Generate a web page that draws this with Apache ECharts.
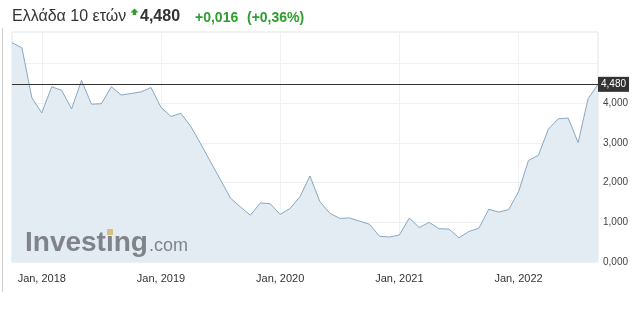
<!DOCTYPE html>
<html>
<head>
<meta charset="utf-8">
<script src="https://cdn.jsdelivr.net/npm/echarts@6/dist/echarts.min.js"></script>
<style>
  html, body { margin: 0; padding: 0; background: #fff; }
  #chart { width: 641px; height: 320px; }
</style>
</head>
<body>
<div id="chart"></div>
<script>
const months = [
  "2017-10","2017-11","2017-12",
  "2018-01","2018-02","2018-03","2018-04","2018-05","2018-06","2018-07","2018-08","2018-09","2018-10","2018-11","2018-12",
  "2019-01","2019-02","2019-03","2019-04","2019-05","2019-06","2019-07","2019-08","2019-09","2019-10","2019-11","2019-12",
  "2020-01","2020-02","2020-03","2020-04","2020-05","2020-06","2020-07","2020-08","2020-09","2020-10","2020-11","2020-12",
  "2021-01","2021-02","2021-03","2021-04","2021-05","2021-06","2021-07","2021-08","2021-09","2021-10","2021-11","2021-12",
  "2022-01","2022-02","2022-03","2022-04","2022-05","2022-06","2022-07","2022-08","2022-09"
];
const yields = [
  5.53, 5.40, 4.14,
  3.76, 4.42, 4.33, 3.86, 4.58, 3.98, 3.99, 4.42, 4.21, 4.25, 4.29, 4.40,
  3.90, 3.67, 3.75, 3.42, 2.98, 2.52, 2.07, 1.61, 1.39, 1.18, 1.49, 1.47,
  1.20, 1.35, 1.65, 2.17, 1.52, 1.23, 1.10, 1.11, 1.03, 0.95, 0.65, 0.63,
  0.68, 1.11, 0.87, 1.00, 0.84, 0.83, 0.61, 0.77, 0.85, 1.33, 1.26, 1.32,
  1.77, 2.56, 2.69, 3.35, 3.61, 3.63, 3.01, 4.12, 4.48
];
const lastValue = 4.48;
const titleName = "Ελλάδα 10 ετών";
const lastText = "4,480";
const changeText = "+0,016";
const changePctText = "(+0,36%)";
const monthNames = ["Jan","Feb","Mar","Apr","May","Jun","Jul","Aug","Sep","Oct","Nov","Dec"];

const green = '#2e9e2e';
const chart = echarts.init(document.getElementById('chart'), null, { renderer: 'canvas' });
const isJan = (idx, val) => String(val).endsWith('-01');

chart.setOption({
  animation: false,
  grid: { left: 12, right: 43, top: 32, bottom: 58, show: true, borderColor: '#e4e4e4', borderWidth: 1 },
  xAxis: {
    type: 'category',
    data: months,
    boundaryGap: false,
    axisLine: { show: false },
    axisTick: { show: false },
    axisLabel: {
      interval: isJan,
      formatter: v => { const p = v.split('-'); return monthNames[+p[1]-1] + ', ' + p[0]; },
      fontFamily: 'Arial', fontSize: 11, color: '#333', margin: 11
    },
    splitLine: { show: true, interval: isJan, lineStyle: { color: '#eef1f4', width: 1 } }
  },
  yAxis: {
    type: 'value',
    position: 'right',
    min: 0, max: 5.8, interval: 1,
    axisLine: { show: false },
    axisTick: { show: false },
    axisLabel: {
      formatter: v => v > 4.5 ? '' : v.toFixed(3).replace('.', ','),
      fontFamily: 'Arial', fontSize: 10, color: '#444', margin: 5
    },
    splitLine: { show: true, lineStyle: { color: '#eef1f4', width: 1 } }
  },
  series: [{
    type: 'line',
    data: yields,
    symbol: 'none',
    lineStyle: { color: '#8aa6c1', width: 1 },
    areaStyle: { color: '#e3ecf3', opacity: 1 },
    z: 2,
    markLine: {
      silent: true,
      symbol: 'none',
      data: [{ yAxis: lastValue }],
      lineStyle: { color: '#333', width: 1, type: 'solid' },
      label: {
        position: 'end', distance: 0,
        formatter: lastText,
        color: '#fff', backgroundColor: '#333',
        fontFamily: 'Arial', fontSize: 10, padding: [3, 3, 2, 3]
      }
    }
  }],
  graphic: [
    { type: 'line', shape: { x1: 2.5, y1: 28, x2: 2.5, y2: 292 }, style: { stroke: '#cfcfcf', lineWidth: 1 } },
    { type: 'text', left: 12, top: 9, style: { text: titleName, font: '16px Arial', fill: '#333' } },
    { type: 'polygon', shape: { points: [[134.5, 8.5], [138.5, 12.5], [136.2, 12.5], [136.2, 15], [132.8, 15], [132.8, 12.5], [130.5, 12.5]] }, style: { fill: green } },
    { type: 'text', left: 140, top: 9, style: { text: lastText, font: 'bold 16px Arial', fill: '#333' } },
    { type: 'text', left: 195, top: 11, style: { text: changeText, font: 'bold 14px Arial', fill: green } },
    { type: 'text', left: 247, top: 11, style: { text: changePctText, font: 'bold 14px Arial', fill: green } },
    { type: 'text', left: 25, top: 229, z: 10, style: { text: 'Investing', font: 'bold 28px Arial', fill: '#80848a' } },
    { type: 'text', left: 149, top: 237, z: 10, style: { text: '.com', font: '18px Arial', fill: '#80848a' } },
    { type: 'rect', shape: { x: 107, y: 229, width: 6, height: 6 }, z: 11, style: { fill: '#d7bf7f' } }
  ]
});
</script>
</body>
</html>
